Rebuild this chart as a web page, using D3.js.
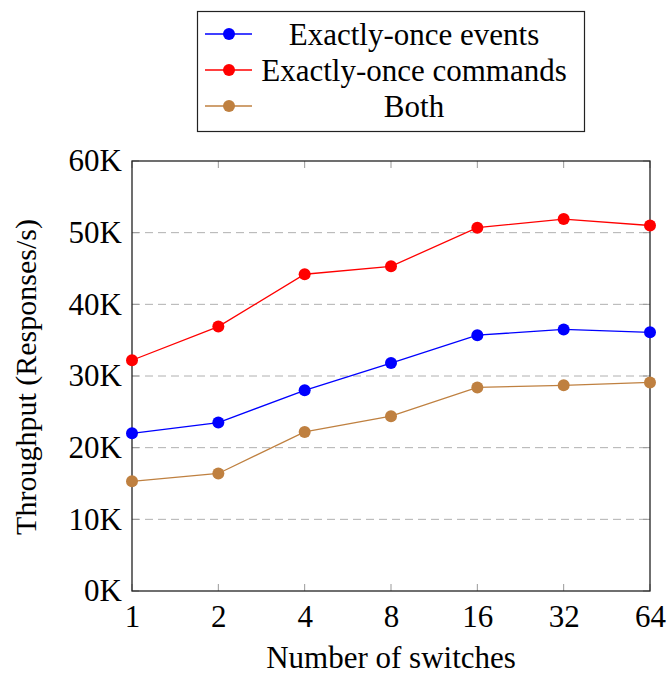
<!DOCTYPE html>
<html><head><meta charset="utf-8">
<script src="https://cdn.jsdelivr.net/npm/d3@7"></script>
<style>body{margin:0;background:#fff}text{font-family:"Liberation Serif","Times New Roman",serif;fill:#000}</style>
</head><body><svg id="c" width="670" height="675"></svg>
<script>
const switches = [1, 2, 4, 8, 16, 32, 64];
const seriesNames = ["Exactly-once events", "Exactly-once commands", "Both"];
const seriesColors = ["#0000ff", "#ff0000", "#bf8040"];
const eventsVals = [22000, 23500, 28000, 31800, 35700, 36500, 36100];
const commandsVals = [32200, 36900, 44200, 45300, 50700, 51900, 51000];
const bothVals = [15300, 16400, 22200, 24400, 28400, 28700, 29100];
const yTicks = [0, 10000, 20000, 30000, 40000, 50000, 60000];

const series = [eventsVals, commandsVals, bothVals];
const svg = d3.select("#c");
const L = 132, R = 650, T = 161, B = 591;
const x = d3.scaleLog().base(2).domain([1, 64]).range([L, R]);
const y = d3.scaleLinear().domain([0, 60000]).range([B, T]);
const fs = 31;

// grid
svg.append("g").selectAll("line").data(yTicks.filter(d => d > 0 && d < 60000)).join("line")
  .attr("x1", L).attr("x2", R).attr("y1", d => y(d)).attr("y2", d => y(d))
  .attr("stroke", "#b0b0b0").attr("stroke-width", 1).attr("stroke-dasharray", "8,5");

// axes
const fmt = d => (d / 1000) + "K";
const ax = svg.append("g").attr("transform", `translate(0,${B})`)
  .call(d3.axisBottom(x).tickValues(switches).tickFormat(d => d).tickSize(0).tickPadding(14));
const ay = svg.append("g").attr("transform", `translate(${L},0)`)
  .call(d3.axisLeft(y).tickValues(yTicks).tickFormat(fmt).tickSize(0).tickPadding(10));
[ax, ay].forEach(g => { g.select(".domain").remove(); g.selectAll("text").attr("font-size", fs).attr("font-family", "Liberation Serif"); });
ax.selectAll("text").attr("dy", "0.71em");

// inner ticks
const tk = svg.append("g").attr("stroke", "#999").attr("stroke-width", 1);
switches.forEach(s => {
  tk.append("line").attr("x1", x(s)).attr("x2", x(s)).attr("y1", B).attr("y2", B - 7);
  tk.append("line").attr("x1", x(s)).attr("x2", x(s)).attr("y1", T).attr("y2", T + 7);
});
yTicks.forEach(v => {
  tk.append("line").attr("x1", L).attr("x2", L + 7).attr("y1", y(v)).attr("y2", y(v));
  tk.append("line").attr("x1", R).attr("x2", R - 7).attr("y1", y(v)).attr("y2", y(v));
});
svg.append("rect").attr("x", L).attr("y", T).attr("width", R - L).attr("height", B - T)
  .attr("fill", "none").attr("stroke", "#222").attr("stroke-width", 1.3);

// lines
const line = d3.line().x((d, i) => x(switches[i])).y(d => y(d));
series.forEach((vals, k) => {
  svg.append("path").datum(vals).attr("d", line).attr("fill", "none")
    .attr("stroke", seriesColors[k]).attr("stroke-width", 1.3);
  svg.append("g").selectAll("circle").data(vals).join("circle")
    .attr("cx", (d, i) => x(switches[i])).attr("cy", d => y(d)).attr("r", 6)
    .attr("fill", seriesColors[k]);
});

// axis labels
svg.append("text").attr("x", (L + R) / 2).attr("y", 668).attr("text-anchor", "middle")
  .attr("font-size", fs).text("Number of switches");
svg.append("text").attr("transform", `translate(36,377) rotate(-90)`)
  .attr("text-anchor", "middle").attr("font-size", 30).text("Throughput (Responses/s)");

// legend
const lg = svg.append("g");
lg.append("rect").attr("x", 197.5).attr("y", 11.5).attr("width", 387).attr("height", 120)
  .attr("fill", "#fff").attr("stroke", "#222").attr("stroke-width", 1.2);
seriesNames.forEach((n, k) => {
  const cy = 34 + k * 36;
  lg.append("line").attr("x1", 205).attr("x2", 252).attr("y1", cy).attr("y2", cy)
    .attr("stroke", seriesColors[k]).attr("stroke-width", 1.3);
  lg.append("circle").attr("cx", 229).attr("cy", cy).attr("r", 6).attr("fill", seriesColors[k]);
  lg.append("text").attr("x", 414).attr("y", cy).attr("dy", "0.35em").attr("text-anchor", "middle")
    .attr("font-size", fs).text(n);
});
</script></body></html>
